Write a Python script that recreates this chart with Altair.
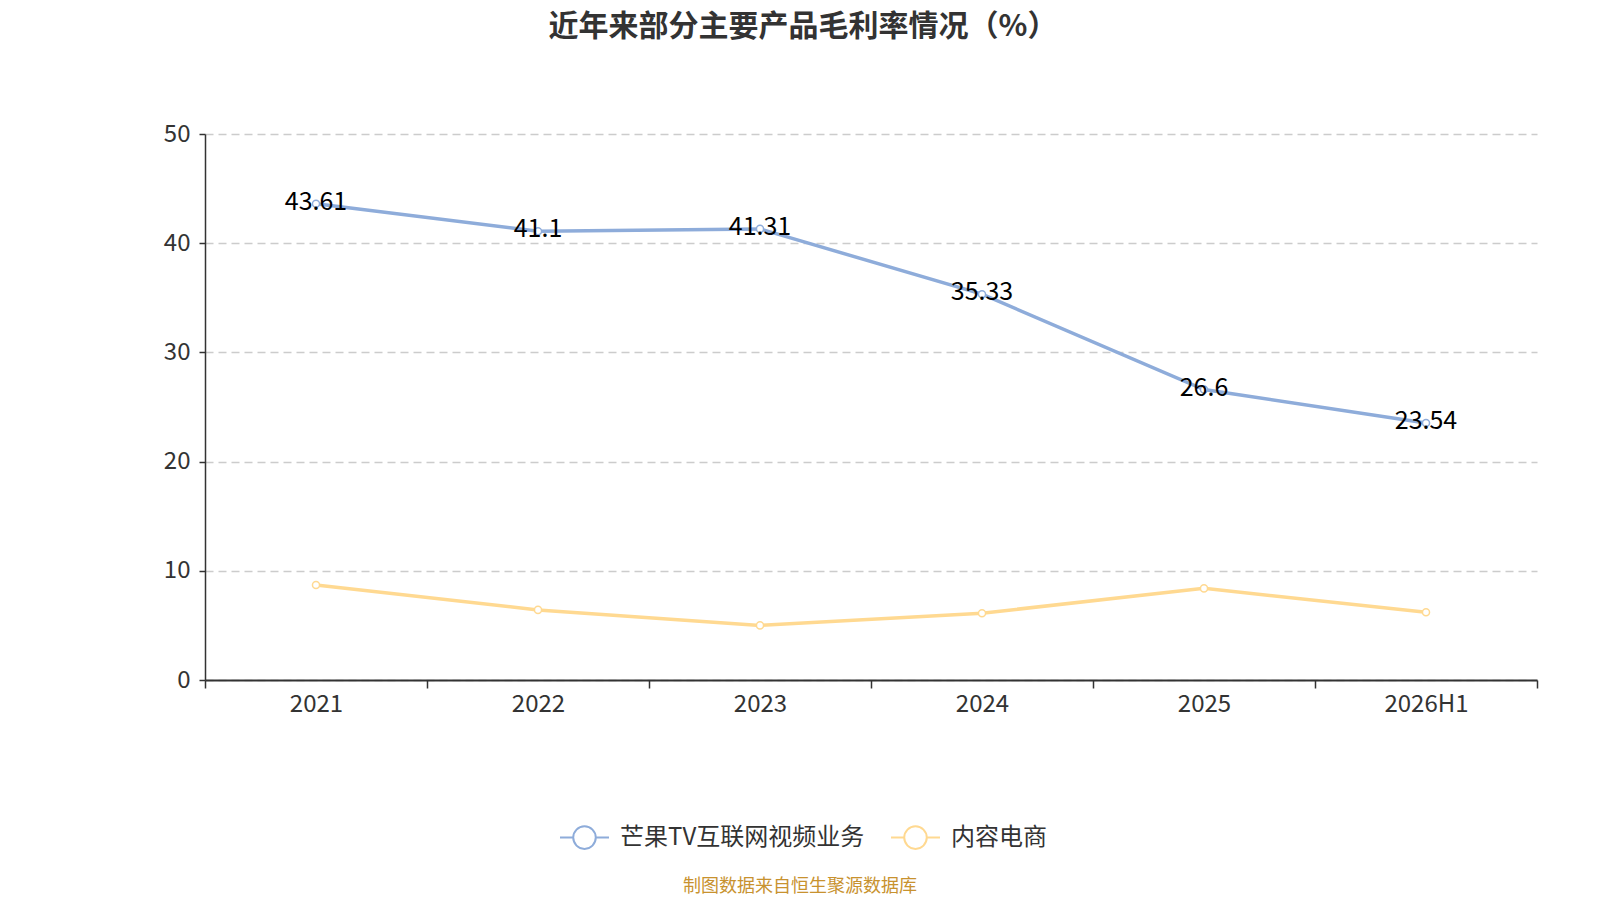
import altair as alt
import pandas as pd

years = ["2021", "2022", "2023", "2024", "2025", "2026H1"]
series_names = ["芒果TV互联网视频业务", "内容电商"]
video_margin = [43.61, 41.1, 41.31, 35.33, 26.6, 23.54]
ecommerce_margin = [8.7, 6.42, 5.0, 6.12, 8.39, 6.21]
colors = ["#8EACDA", "#FFD991"]
source_note = ["制图数据来自恒生聚源数据库"]

rows = []
for y, v in zip(years, video_margin):
    rows.append({"year": y, "series": series_names[0], "value": v})
for y, v in zip(years, ecommerce_margin):
    rows.append({"year": y, "series": series_names[1], "value": v})
df = pd.DataFrame(rows)

FONT = "Noto Sans CJK SC"

legend_symbol = ("M-1,0 L-0.46,0 M0.46,0 L1,0 "
                 "M-0.46,0 A0.46,0.46 0 1,1 0.46,0 A0.46,0.46 0 1,1 -0.46,0 Z")

x_enc = alt.X("year:N", sort=years, title=None,
              scale=alt.Scale(paddingInner=0, paddingOuter=0),
              axis=alt.Axis(tickBand="extent", labelAngle=0, labelFontSize=24,
                            labelColor="#333", labelFont=FONT, tickSize=8, tickWidth=1.5,
                            tickColor="#333", domainColor="#333", domainWidth=2,
                            labelPadding=4, grid=False))
y_enc = alt.Y("value:Q", title=None,
              scale=alt.Scale(domain=[0, 50], nice=False),
              axis=alt.Axis(values=[0, 10, 20, 30, 40, 50], labelFontSize=24,
                            labelColor="#333", labelFont=FONT, tickSize=6, tickWidth=1.5,
                            tickColor="#333", domainColor="#333", domainWidth=1.5,
                            labelPadding=9,
                            grid=True, gridColor="#cccccc", gridDash=[8, 5],
                            gridWidth=1.3))
color_enc = alt.Color("series:N", sort=series_names,
                      scale=alt.Scale(domain=series_names, range=colors),
                      legend=alt.Legend(title=None, orient="none", direction="horizontal",
                                        legendX=354, legendY=678,
                                        symbolType=legend_symbol, symbolSize=2401,
                                        symbolStrokeWidth=2, symbolFillColor="white",
                                        labelFontSize=24, labelColor="#333", labelFont=FONT,
                                        labelLimit=500,
                                        columnPadding=22, labelOffset=10))

base = alt.Chart(df)

lines = base.mark_line(strokeWidth=3.5).encode(x=x_enc, y=y_enc, color=color_enc)
points = base.mark_point(filled=True, fill="white", size=50, strokeWidth=1.5, opacity=1).encode(
    x=x_enc, y=y_enc,
    stroke=alt.Stroke("series:N", scale=alt.Scale(domain=series_names, range=colors), legend=None))
labels = base.mark_text(fontSize=25, color="black", font=FONT, dy=-2).encode(
    x=x_enc, y=y_enc, text=alt.Text("value:Q")
).transform_filter(alt.datum.series == series_names[0])

source = alt.Chart(pd.DataFrame({"t": source_note})).mark_text(
    fontSize=18, color="#C8922F", font=FONT
).encode(x=alt.value(595), y=alt.value(753), text="t:N")

chart = alt.layer(lines, points, labels, source).properties(
    width=1332, height=546,
    padding={"left": 197, "top": 126, "right": 55, "bottom": 218},
    autosize=alt.AutoSizeParams(type="none"),
    title=alt.TitleParams("近年来部分主要产品毛利率情况（%）", fontSize=30, font=FONT,
                          fontWeight="bold", color="#333", anchor="middle", offset=80,
                          dx=-68),
).configure_view(stroke=None)

chart.save("out.html", embed_options={"renderer": "svg", "actions": False})
